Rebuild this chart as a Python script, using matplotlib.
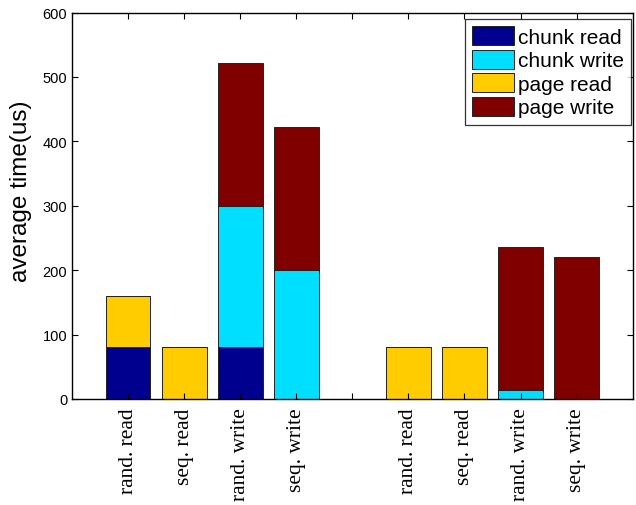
import matplotlib
matplotlib.use("Agg")
import matplotlib.pyplot as plt
import numpy as np

positions = [1, 2, 3, 4, 6, 7, 8, 9]
tick_positions = [1, 2, 3, 4, 5, 6, 7, 8, 9]
tick_labels = ["rand. read", "seq. read", "rand. write", "seq. write", "",
               "rand. read", "seq. read", "rand. write", "seq. write"]

chunk_read = [80, 0, 80, 0, 0, 0, 0, 0]
chunk_write = [0, 0, 220, 200, 0, 0, 14, 0]
page_read = [80, 80, 0, 0, 80, 80, 0, 0]
page_write = [0, 0, 222, 222, 0, 0, 222, 220]

series = [("chunk read", chunk_read, "#00008F"),
          ("chunk write", chunk_write, "#00DFFF"),
          ("page read", page_read, "#FFCC00"),
          ("page write", page_write, "#800000")]

fig = plt.figure(figsize=(6.36, 5.06), dpi=100)
ax = fig.add_axes([72/636, 106/506, (632.7-72)/636, (400-13.5)/506])

bottom = np.zeros(len(positions))
for name, vals, col in series:
    vals = np.array(vals, dtype=float)
    ax.bar(positions, vals, width=0.8, bottom=bottom, color=col,
           edgecolor="#222222", linewidth=0.7, label=name)
    bottom += vals

ax.set_xlim(0, 10)
ax.set_ylim(0, 600)
ax.set_yticks(range(0, 601, 100))
ax.set_xticks(tick_positions)
ax.set_xticklabels(tick_labels, rotation=90, fontfamily="Liberation Serif",
                   fontsize=15.5)
for lab in ax.get_yticklabels():
    lab.set_fontfamily("Liberation Sans")
    lab.set_fontsize(10.5)
ax.tick_params(direction="in", top=True, right=True, length=4, width=0.8)
ax.tick_params(axis="x", pad=6)
ax.set_ylabel("average time(us)", fontfamily="Liberation Sans", fontsize=17.5)
ax.yaxis.set_label_coords(-0.072, 0.54)
for s in ax.spines.values():
    s.set_linewidth(1.0)

leg = ax.legend(loc="upper right", prop={"family": "Liberation Sans", "size": 15},
                frameon=True, fancybox=False, edgecolor="black",
                handlelength=2.0, handleheight=1.0, handletextpad=0.2,
                labelspacing=0.15, borderpad=0.35,
                bbox_to_anchor=(631/636, (506-20)/506),
                bbox_transform=fig.transFigure, borderaxespad=0)
leg.get_frame().set_linewidth(0.9)

fig.savefig("out.png", dpi=100)
